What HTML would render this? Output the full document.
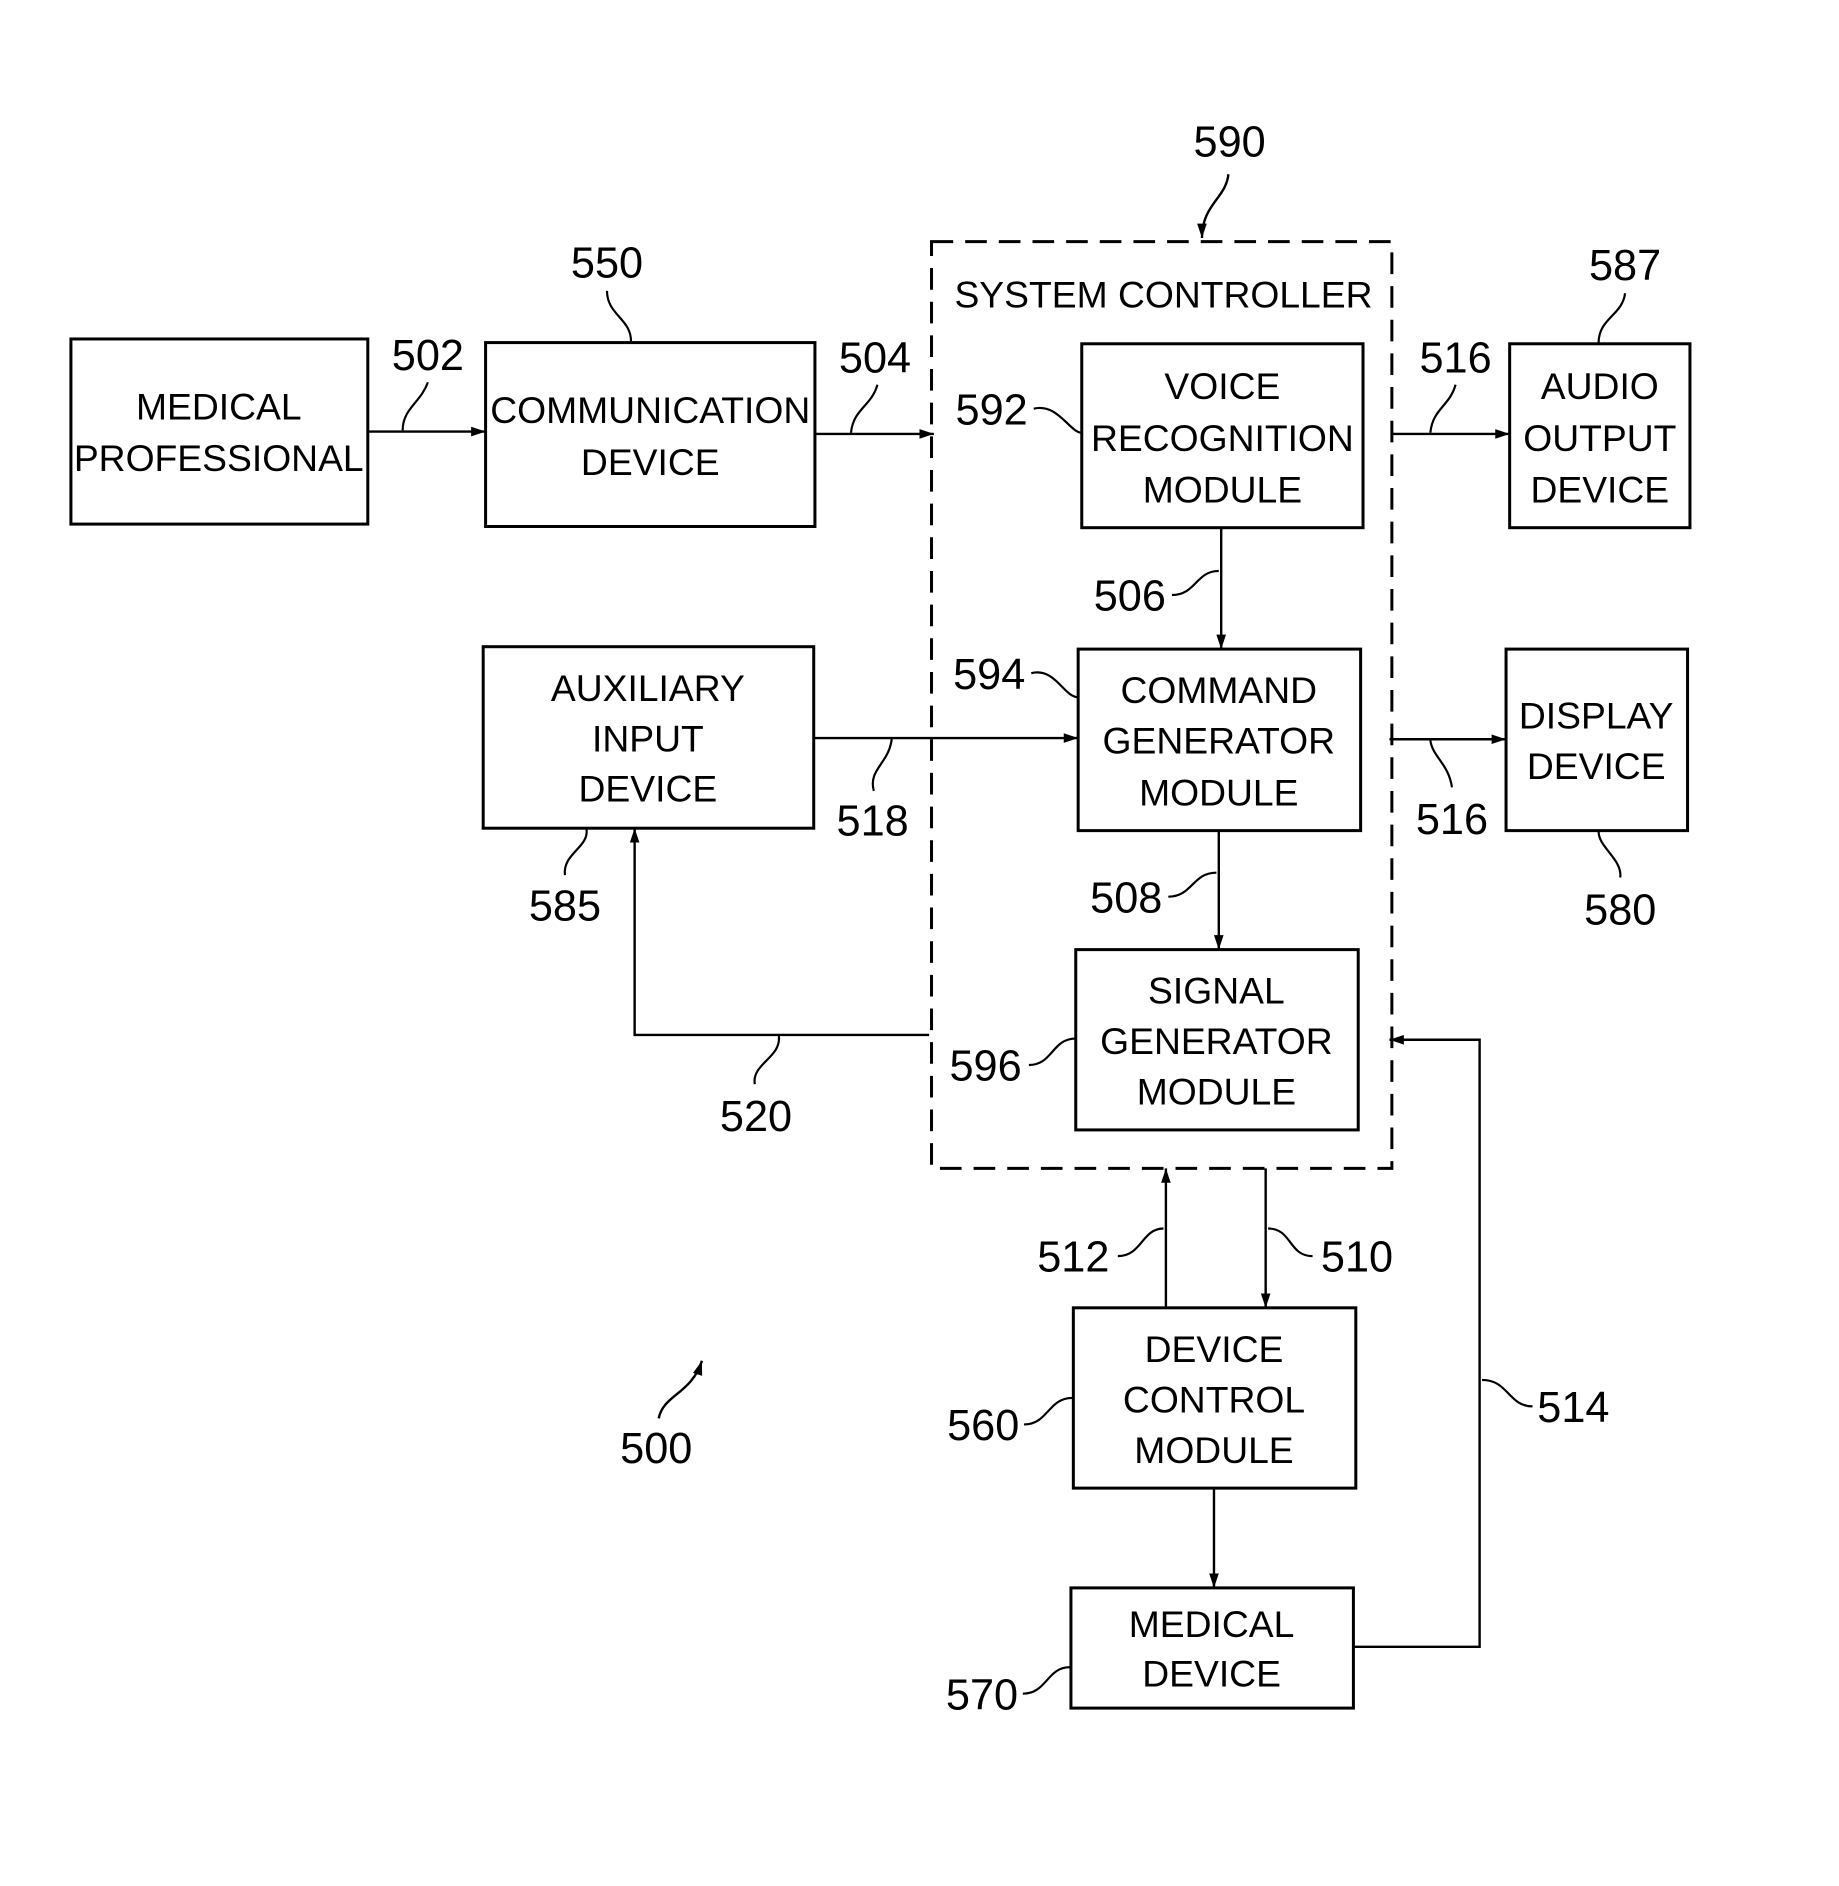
<!DOCTYPE html>
<html><head><meta charset="utf-8"><style>html,body{margin:0;padding:0;background:#fff}svg{display:block}</style></head>
<body>
<svg width="1839" height="1886" viewBox="0 0 1530 1569" preserveAspectRatio="none" xmlns="http://www.w3.org/2000/svg" font-family="Liberation Sans, sans-serif">
<defs><marker id="a" markerWidth="12" markerHeight="10" refX="12" refY="5" orient="auto" markerUnits="userSpaceOnUse"><path d="M0,1 L12,5 L0,9 Z" fill="#000"/></marker></defs>
<g fill="none" stroke="#000" stroke-width="2.5">
<rect x="59" y="282" width="247" height="154"/>
<rect x="404" y="285" width="274" height="153"/>
<rect x="900" y="286" width="234" height="153"/>
<rect x="897" y="540" width="235" height="151"/>
<rect x="895" y="790" width="235" height="150"/>
<rect x="1256" y="286" width="150" height="153"/>
<rect x="1253" y="540" width="151" height="151"/>
<rect x="402" y="538" width="275" height="151"/>
<rect x="893" y="1088" width="235" height="150"/>
<rect x="891" y="1321" width="235" height="100"/>
<rect x="775" y="201" width="383" height="771" stroke-dasharray="18,10"/>
</g>
<g fill="none" stroke="#000" stroke-width="2" marker-end="url(#a)">
<path d="M306,359 H404"/><path d="M678,361 H777"/><path d="M1158,361 H1256"/>
<path d="M677,614 H897"/><path d="M1156,615 H1253"/>
<path d="M1016,439 V540"/><path d="M1014,691 V790"/>
<path d="M773,861 H528 V689"/><path d="M970,1088 V972"/><path d="M1053,972 V1088"/>
<path d="M1010,1238 V1321"/><path d="M1126,1370 H1231 V865 H1156"/>
<path d="M1022,145 C1020,165 1000,170 1000,198"/>
<path d="M548,1180 C552,1160 575,1160 584,1132"/>
</g>
<g fill="none" stroke="#000" stroke-width="1.8">
<path d="M356,318 C350,335 335,340 335,358"/><path d="M730,320 C725,338 710,340 708,360"/>
<path d="M1211,320 C1206,338 1192,340 1190,360"/><path d="M505,242 C505,262 525,265 525,284"/>
<path d="M1352,244 C1350,262 1330,265 1330,285"/><path d="M860,340 C880,335 890,360 900,360"/>
<path d="M975,495 C995,495 995,475 1014,475"/><path d="M858,560 C878,555 885,580 897,580"/>
<path d="M727,658 C722,640 740,635 742,614"/><path d="M1208,655 C1205,635 1192,630 1190,616"/>
<path d="M1348,730 C1350,715 1330,705 1330,692"/><path d="M470,728 C468,710 490,705 488,690"/>
<path d="M972,746 C992,746 992,726 1012,726"/><path d="M856,886 C876,886 875,864 895,864"/>
<path d="M628,902 C625,885 650,880 648,862"/><path d="M930,1045 C950,1045 950,1022 968,1022"/>
<path d="M1092,1045 C1072,1045 1075,1022 1055,1022"/><path d="M852,1185 C872,1185 872,1163 892,1163"/>
<path d="M1275,1170 C1255,1170 1255,1148 1233,1148"/><path d="M851,1409 C871,1409 871,1387 890,1387"/>
</g>
<g font-size="36" fill="#000" text-anchor="middle">
<text x="1023" y="130">590</text><text x="505" y="231">550</text><text x="356" y="308">502</text>
<text x="728" y="310">504</text><text x="825" y="353">592</text><text x="1211" y="310">516</text>
<text x="1352" y="233">587</text><text x="940" y="508">506</text><text x="823" y="573">594</text>
<text x="726" y="695">518</text><text x="1208" y="694">516</text><text x="1348" y="769">580</text>
<text x="470" y="766">585</text><text x="937" y="759">508</text><text x="820" y="899">596</text>
<text x="629" y="941">520</text><text x="893" y="1058">512</text><text x="1129" y="1058">510</text>
<text x="546" y="1217">500</text><text x="818" y="1198">560</text><text x="1309" y="1183">514</text>
<text x="817" y="1422">570</text>
</g>
<g font-size="31" fill="#000" text-anchor="middle">
<text x="968" y="256">SYSTEM CONTROLLER</text>
<text x="182" y="349">MEDICAL</text><text x="182" y="392">PROFESSIONAL</text>
<text x="541" y="352">COMMUNICATION</text><text x="541" y="395">DEVICE</text>
<text x="1017" y="332">VOICE</text><text x="1017" y="375">RECOGNITION</text><text x="1017" y="418">MODULE</text>
<text x="1014" y="585">COMMAND</text><text x="1014" y="627">GENERATOR</text><text x="1014" y="670">MODULE</text>
<text x="1012" y="835">SIGNAL</text><text x="1012" y="877">GENERATOR</text><text x="1012" y="919">MODULE</text>
<text x="1331" y="332">AUDIO</text><text x="1331" y="375">OUTPUT</text><text x="1331" y="418">DEVICE</text>
<text x="1328" y="606">DISPLAY</text><text x="1328" y="648">DEVICE</text>
<text x="539" y="583">AUXILIARY</text><text x="539" y="625">INPUT</text><text x="539" y="667">DEVICE</text>
<text x="1010" y="1133">DEVICE</text><text x="1010" y="1175">CONTROL</text><text x="1010" y="1217">MODULE</text>
<text x="1008" y="1362">MEDICAL</text><text x="1008" y="1403">DEVICE</text>
</g>
</svg>
</body></html>
